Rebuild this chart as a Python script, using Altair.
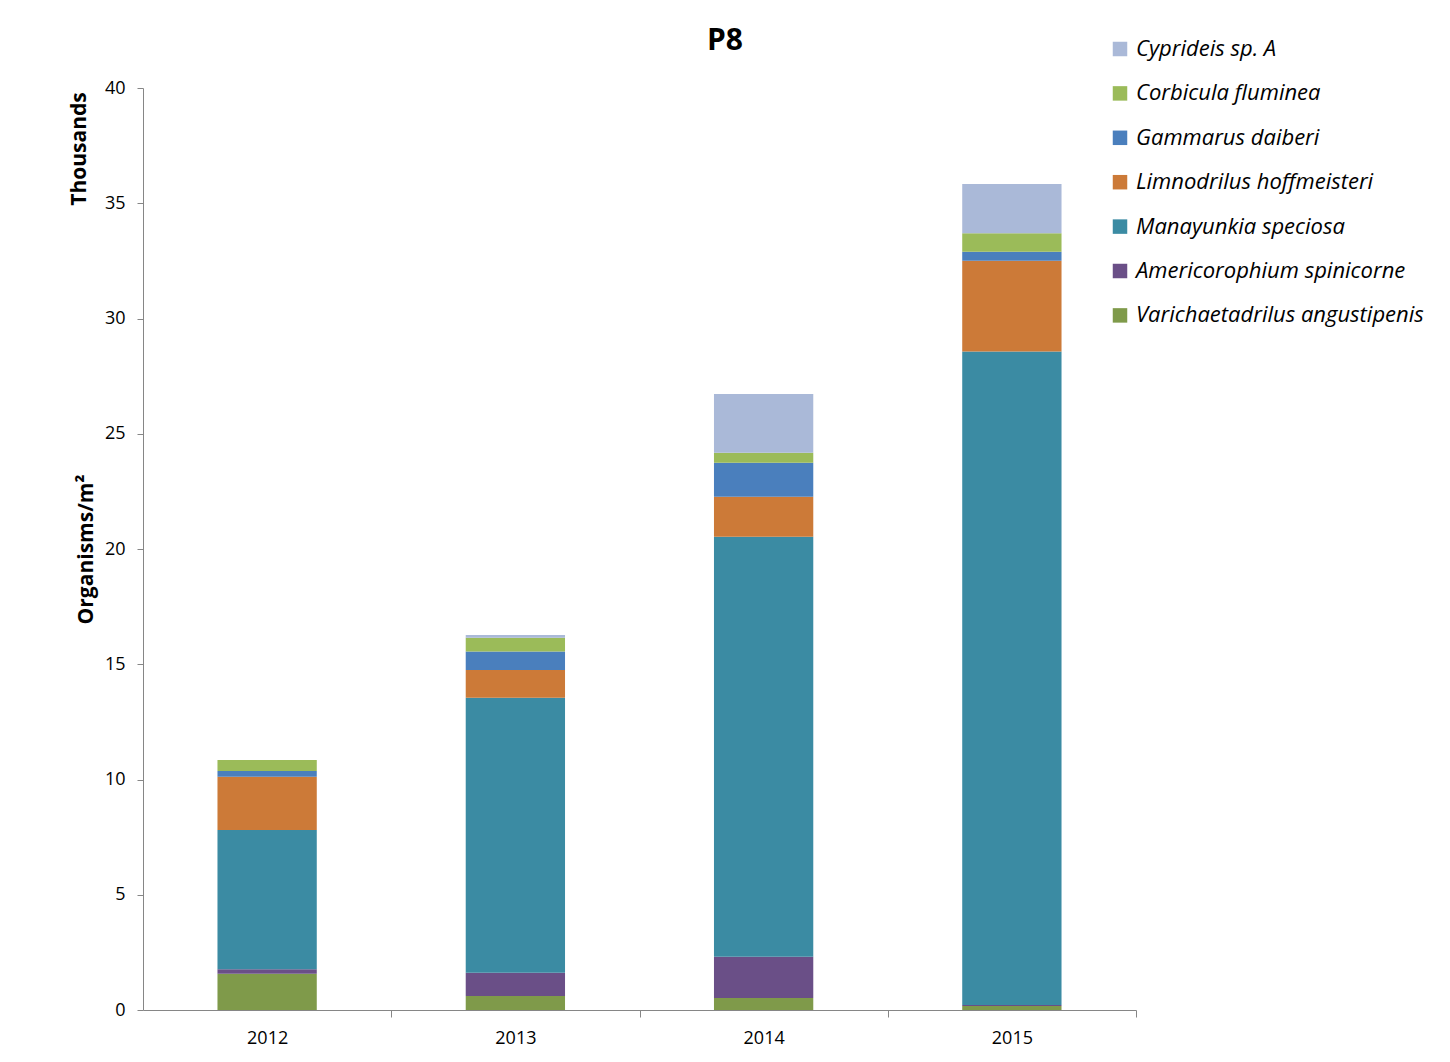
import altair as alt
import pandas as pd

years = ["2012", "2013", "2014", "2015"]
species = [
    "Varichaetadrilus angustipenis",
    "Americorophium spinicorne",
    "Manayunkia speciosa",
    "Limnodrilus hoffmeisteri",
    "Gammarus daiberi",
    "Corbicula fluminea",
    "Cyprideis sp. A",
]
colors = ["#7F9A4A", "#6A4F87", "#3B8BA3", "#CC7A38", "#4A7FBD", "#9BBB59", "#AAB9D8"]

# values in thousands of organisms/m2, per year
varichaetadrilus = [1.57, 0.61, 0.52, 0.17]
americorophium = [0.20, 1.01, 1.79, 0.05]
manayunkia = [6.04, 11.93, 18.22, 28.35]
limnodrilus = [2.31, 1.20, 1.74, 3.94]
gammarus = [0.25, 0.80, 1.47, 0.39]
corbicula = [0.48, 0.60, 0.44, 0.80]
cyprideis = [0.00, 0.12, 2.54, 2.14]

series = [varichaetadrilus, americorophium, manayunkia, limnodrilus, gammarus, corbicula, cyprideis]
rows = []
for si, (sp, vals) in enumerate(zip(species, series)):
    for y, v in zip(years, vals):
        rows.append({"year": y, "species": sp, "value": v, "idx": si})
df = pd.DataFrame(rows)

FONT = "Open Sans"
W, H = 993, 922
STEP = W / len(years)

legend_order = species[::-1]
legend_colors = colors[::-1]

bars = alt.Chart(df).mark_bar().encode(
    x=alt.X("year:N", sort=years,
            scale=alt.Scale(paddingInner=0.6, paddingOuter=0.3),
            axis=alt.Axis(title=None, labelAngle=0, labelFontSize=18, labelColor="#000000",
                          labelFont=FONT, domainColor="#868686", tickColor="#868686",
                          tickSize=7, tickOffset=STEP / 2, labelOffset=-STEP / 2,
                          labelPadding=12)),
    y=alt.Y("value:Q", stack="zero",
            scale=alt.Scale(domain=[0, 40], nice=False),
            axis=alt.Axis(title="Organisms/m²", titleFontSize=21, titleFont=FONT,
                          titleFontWeight="bold", titleColor="#000000", titlePadding=8,
                          values=list(range(0, 41, 5)), labelFontSize=18, labelFont=FONT,
                          labelColor="#000000", domainColor="#868686", tickColor="#868686",
                          tickSize=6, grid=False, labelPadding=12)),
    color=alt.Color("species:N",
                    scale=alt.Scale(domain=legend_order, range=legend_colors),
                    legend=alt.Legend(title=None, orient="none", legendX=966, legendY=-50,
                                      symbolType="square", symbolSize=210, symbolStrokeWidth=0,
                                      labelFontSize=22, labelFont=FONT, labelFontStyle="italic",
                                      labelColor="#000000", rowPadding=22.4, labelOffset=5,
                                      labelLimit=400)),
    order=alt.Order("idx:Q", sort="ascending"),
)

thousands = alt.Chart(pd.DataFrame({"t": ["Thousands"]})).mark_text(
    angle=270, fontSize=21, font=FONT, fontWeight="bold", color="#000000", align="center",
    baseline="middle"
).encode(x=alt.value(-63), y=alt.value(61), text="t:N")

title = alt.Chart(pd.DataFrame({"t": ["P8"]})).mark_text(
    fontSize=30, font=FONT, fontWeight="bold", color="#000000", align="center",
    baseline="middle"
).encode(x=alt.value(582), y=alt.value(-47), text="t:N")

chart = alt.layer(bars, thousands, title).properties(
    width=W, height=H,
    background="white",
    autosize=alt.AutoSizeParams(type="none"),
    padding={"left": 135, "top": 80, "right": 300, "bottom": 40},
).configure_view(strokeWidth=0, stroke="transparent")

chart.save("out.html", embed_options={"renderer": "svg", "actions": False})
